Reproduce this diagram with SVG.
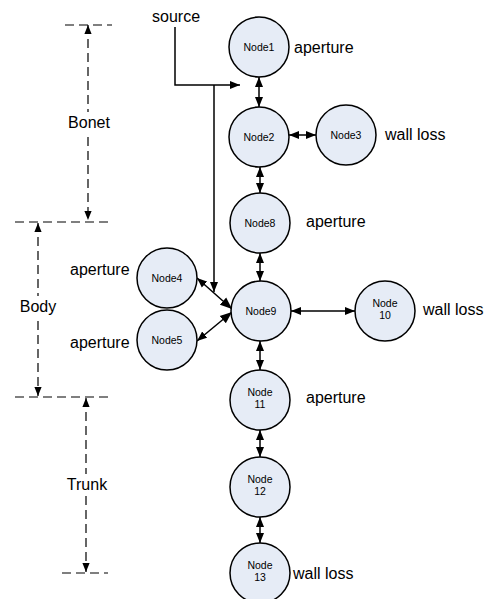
<svg xmlns="http://www.w3.org/2000/svg" width="494" height="599" viewBox="0 0 494 599">
<style>
.node{fill:#E6ECF6;stroke:#000;stroke-width:1.5}
.nt{font-family:"Liberation Sans",Arial,sans-serif;font-size:10.5px;fill:#000;text-anchor:middle}
.lb{font-family:"Liberation Sans",Arial,sans-serif;font-size:16px;fill:#000}
.ln{stroke:#000;stroke-width:1.5;fill:none}
.dash{stroke:#000;stroke-width:1.2;fill:none;stroke-dasharray:9 5}
</style>
<defs>
<marker id="ah" viewBox="0 0 10 8" refX="10" refY="4" markerWidth="10" markerHeight="9" markerUnits="userSpaceOnUse" orient="auto-start-reverse">
<path d="M0,0 L10,4 L0,8 z" fill="#000"/>
</marker>
<marker id="bh" viewBox="0 0 10 8" refX="10" refY="4" markerWidth="12" markerHeight="11" markerUnits="userSpaceOnUse" orient="auto-start-reverse">
<path d="M0,0 L10,4 L0,8 z" fill="#000"/>
</marker>
<marker id="dh" viewBox="0 0 10 8" refX="10" refY="4" markerWidth="9" markerHeight="8" markerUnits="userSpaceOnUse" orient="auto-start-reverse">
<path d="M0,0 L10,4 L0,8 z" fill="#000"/>
</marker>
</defs>
<g id="dimensions">
<line class="dash" x1="65" y1="25" x2="112" y2="25"/>
<line class="dash" x1="15" y1="222" x2="112" y2="222"/>
<line class="dash" x1="15" y1="397" x2="110" y2="397"/>
<line class="dash" x1="62" y1="573" x2="108" y2="573"/>
<line class="dash" x1="88" y1="25" x2="88" y2="220" marker-start="url(#dh)" marker-end="url(#dh)"/>
<line class="dash" x1="38" y1="223" x2="38" y2="396" marker-start="url(#dh)" marker-end="url(#dh)"/>
<line class="dash" x1="86" y1="398" x2="86" y2="572" marker-start="url(#dh)" marker-end="url(#dh)"/>
<rect x="64" y="112" width="50" height="20" fill="#fff"/>
<rect x="14" y="296" width="50" height="20" fill="#fff"/>
<rect x="62" y="474" width="50" height="20" fill="#fff"/>
<text class="lb" x="89" y="128" text-anchor="middle">Bonet</text>
<text class="lb" x="38" y="312" text-anchor="middle">Body</text>
<text class="lb" x="87" y="490" text-anchor="middle">Trunk</text>
</g>
<g id="connectors">
<polyline class="ln" points="175,27 175,85 240,85" marker-end="url(#ah)"/>
<line class="ln" x1="214" y1="85" x2="214" y2="292" marker-end="url(#ah)"/>
<line class="ln" x1="259" y1="77" x2="259" y2="107" marker-start="url(#ah)" marker-end="url(#ah)"/>
<line class="ln" x1="289" y1="135" x2="316" y2="135" marker-start="url(#ah)" marker-end="url(#ah)"/>
<line class="ln" x1="260" y1="167" x2="260" y2="193" marker-start="url(#ah)" marker-end="url(#ah)"/>
<line class="ln" x1="260" y1="253" x2="260" y2="281" marker-start="url(#ah)" marker-end="url(#ah)"/>
<line class="ln" x1="291" y1="311" x2="355" y2="311" marker-start="url(#ah)" marker-end="url(#ah)"/>
<line class="ln" x1="260" y1="341" x2="260" y2="370" marker-start="url(#ah)" marker-end="url(#ah)"/>
<line class="ln" x1="260" y1="430" x2="260" y2="457" marker-start="url(#ah)" marker-end="url(#ah)"/>
<line class="ln" x1="260" y1="517" x2="260" y2="543" marker-start="url(#ah)" marker-end="url(#ah)"/>
<line class="ln" x1="232" y1="309" x2="197" y2="278" marker-start="url(#bh)" marker-end="url(#ah)"/>
<line class="ln" x1="232" y1="312" x2="197" y2="341" marker-start="url(#bh)" marker-end="url(#ah)"/>
</g>
<g id="node1"><circle class="node" cx="259" cy="47" r="30"/><text class="nt" x="259" y="51">Node1</text></g>
<g id="node2"><circle class="node" cx="259" cy="137" r="30"/><text class="nt" x="259" y="141">Node2</text></g>
<g id="node3"><circle class="node" cx="346" cy="135" r="30"/><text class="nt" x="346" y="139">Node3</text></g>
<g id="node8"><circle class="node" cx="260" cy="223" r="30"/><text class="nt" x="260" y="227">Node8</text></g>
<g id="node9"><circle class="node" cx="261" cy="311" r="30"/><text class="nt" x="261" y="315">Node9</text></g>
<g id="node4"><circle class="node" cx="167" cy="278" r="30"/><text class="nt" x="167" y="282">Node4</text></g>
<g id="node5"><circle class="node" cx="167" cy="340" r="30"/><text class="nt" x="167" y="344">Node5</text></g>
<g id="node10"><circle class="node" cx="385" cy="311" r="30"/><text class="nt" x="385" y="307">Node</text><text class="nt" x="385" y="319">10</text></g>
<g id="node11"><circle class="node" cx="260" cy="400" r="30"/><text class="nt" x="260" y="396">Node</text><text class="nt" x="260" y="408">11</text></g>
<g id="node12"><circle class="node" cx="260" cy="487" r="30"/><text class="nt" x="260" y="483">Node</text><text class="nt" x="260" y="495">12</text></g>
<g id="node13"><circle class="node" cx="260" cy="573" r="30"/><text class="nt" x="260" y="569">Node</text><text class="nt" x="260" y="581">13</text></g>
<g id="labels">
<text class="lb" x="152" y="22">source</text>
<text class="lb" x="294" y="53">aperture</text>
<text class="lb" x="385" y="140">wall loss</text>
<text class="lb" x="306" y="227">aperture</text>
<text class="lb" x="70" y="275">aperture</text>
<text class="lb" x="70" y="348">aperture</text>
<text class="lb" x="423" y="315">wall loss</text>
<text class="lb" x="306" y="403">aperture</text>
<text class="lb" x="293" y="579">wall loss</text>
</g>
</svg>
